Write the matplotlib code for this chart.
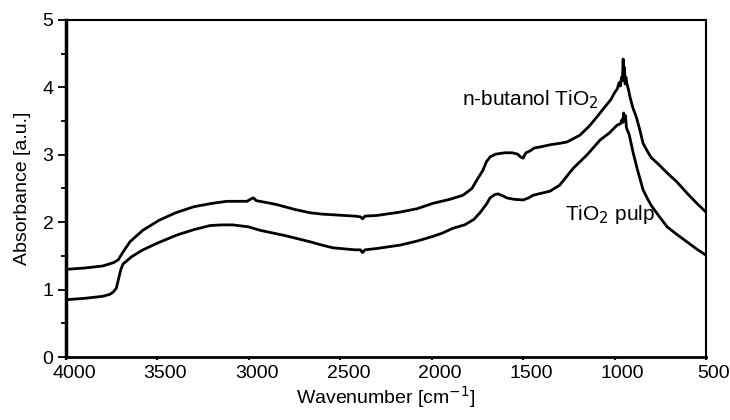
import matplotlib
matplotlib.use('Agg')
import matplotlib.pyplot as plt
import matplotlib.transforms as mtransforms
from matplotlib.ticker import MultipleLocator

plt.rcParams['font.family'] = ['Liberation Sans', 'DejaVu Sans']

# n-butanol TiO2 (upper trace)
butanol_wn = [4000, 3900, 3800, 3740, 3715, 3690, 3650, 3580, 3490, 3400, 3300,
              3200, 3120, 3010, 2985, 2975, 2960, 2900, 2846, 2750, 2666, 2600,
              2540, 2420, 2390, 2378, 2365, 2300, 2173, 2080, 1993, 1900, 1829,
              1780, 1752, 1720, 1700, 1680, 1650, 1600, 1560, 1530, 1515, 1500,
              1485, 1460, 1440, 1400, 1350, 1300, 1260, 1190, 1140, 1100, 1050,
              1020, 1000, 985, 975, 968, 962, 957, 953, 949, 946, 942, 938, 932,
              925, 915, 900, 880, 860, 844, 820, 800, 760, 712, 660, 600, 550, 500]
butanol_abs = [1.30, 1.32, 1.35, 1.40, 1.44, 1.55, 1.71, 1.88, 2.03, 2.14, 2.23,
               2.28, 2.31, 2.31, 2.35, 2.36, 2.32, 2.29, 2.26, 2.19, 2.14, 2.12,
               2.11, 2.09, 2.08, 2.05, 2.09, 2.10, 2.15, 2.20, 2.28, 2.34, 2.40,
               2.50, 2.63, 2.77, 2.90, 2.97, 3.01, 3.03, 3.03, 3.01, 2.97, 2.95,
               3.03, 3.06, 3.10, 3.12, 3.15, 3.17, 3.19, 3.29, 3.42, 3.55, 3.72,
               3.82, 3.92, 3.98, 4.07, 4.02, 4.15, 4.10, 4.42, 4.10, 4.30, 4.05,
               4.15, 4.05, 3.98, 3.85, 3.70, 3.55, 3.35, 3.17, 3.05, 2.96, 2.86,
               2.73, 2.60, 2.42, 2.28, 2.15]

# TiO2 pulp (lower trace)
pulp_wn = [4000, 3900, 3800, 3760, 3743, 3725, 3716, 3700, 3688, 3640, 3579,
           3500, 3393, 3300, 3212, 3150, 3087, 3000, 2939, 2800, 2666, 2600,
           2540, 2420, 2390, 2378, 2365, 2300, 2173, 2080, 1993, 1940, 1884,
           1820, 1770, 1736, 1700, 1681, 1655, 1637, 1610, 1589, 1550, 1500,
           1470, 1445, 1400, 1353, 1300, 1226, 1150, 1079, 1030, 986, 968, 960,
           955, 950, 945, 940, 935, 920, 900, 875, 844, 820, 800, 760, 712,
           660, 600, 550, 500]
pulp_abs = [0.85, 0.87, 0.90, 0.93, 0.96, 1.02, 1.12, 1.30, 1.38, 1.49, 1.59,
            1.69, 1.81, 1.89, 1.95, 1.96, 1.96, 1.93, 1.88, 1.80, 1.71, 1.66,
            1.62, 1.59, 1.59, 1.55, 1.59, 1.61, 1.66, 1.72, 1.79, 1.84, 1.91,
            1.96, 2.04, 2.14, 2.27, 2.36, 2.41, 2.42, 2.39, 2.36, 2.34, 2.33,
            2.36, 2.40, 2.43, 2.46, 2.55, 2.80, 3.00, 3.22, 3.32, 3.44, 3.46,
            3.52, 3.48, 3.62, 3.50, 3.58, 3.40, 3.30, 3.05, 2.78, 2.48, 2.35,
            2.25, 2.10, 1.93, 1.82, 1.70, 1.60, 1.51]

fig = plt.figure(figsize=(7.3, 4.2), dpi=100)
ax = fig.add_axes([0.0904, 0.15, 0.8767, 0.8024])

ax.plot(butanol_wn, butanol_abs, color='black', linewidth=2.0)
ax.plot(pulp_wn, pulp_abs, color='black', linewidth=2.0)

ax.set_xlim(4000, 500)
ax.set_ylim(0, 5)
ax.xaxis.set_major_locator(MultipleLocator(500))
ax.yaxis.set_major_locator(MultipleLocator(1))
ax.yaxis.set_minor_locator(MultipleLocator(0.5))

ax.tick_params(axis='y', which='major', direction='out', length=6, width=1.3,
               labelsize=14, pad=3)
ax.tick_params(axis='y', which='minor', direction='out', length=3.5, width=1.3)
ax.tick_params(axis='x', which='major', direction='out', length=2.5, width=1.5,
               labelsize=14, pad=3)
ax.tick_params(top=False, right=False)

# x tick labels sit a little right of their ticks in the original
shift = mtransforms.ScaledTranslation(8 / 100, 0, fig.dpi_scale_trans)
for lbl in ax.get_xticklabels():
    lbl.set_transform(lbl.get_transform() + shift)

ax.spines['left'].set_linewidth(2.5)
ax.spines['bottom'].set_linewidth(2.0)
for side in ['top', 'right']:
    ax.spines[side].set_linewidth(1.5)

ax.set_xlabel('Wavenumber [cm$^{-1}$]', fontsize=14, labelpad=2)
ax.set_ylabel('Absorbance [a.u.]', fontsize=14, labelpad=8)

ax.text(1834, 3.81, 'n-butanol TiO$_2$', fontsize=15, ha='left', va='center')
ax.text(1271, 2.11, 'TiO$_2$ pulp', fontsize=15, ha='left', va='center')

fig.savefig('out.png', dpi=100)
